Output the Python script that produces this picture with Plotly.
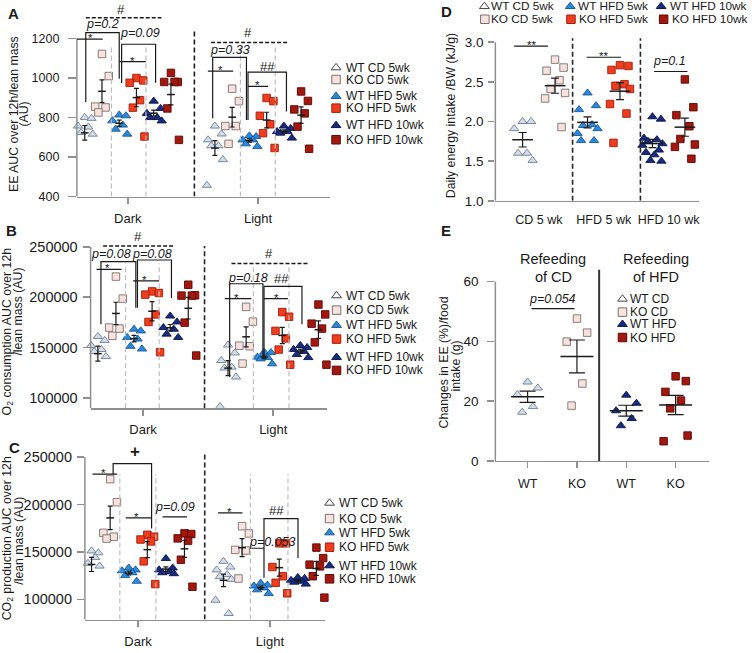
import numpy as np
import plotly.graph_objects as go

W, H = 752, 653
FONT = "Liberation Sans, Arial, Helvetica, sans-serif"
INK = "#1a1a1a"
AXC = "#8f8f8f"

# ---------------- data ----------------
GROUPS = ["WT CD 5wk", "KO CD 5wk", "WT HFD 5wk", "KO HFD 5wk", "WT HFD 10wk", "KO HFD 10wk"]
PERIODS = ["Dark", "Light"]

EE_DARK = [[801, 796, 757, 752, 724, 716, 512],
           [1122, 1010, 855, 851, 826],
           [813, 809, 784, 762, 741, 716],
           [1000, 988, 976, 888, 850, 704],
           [883, 846, 821, 800, 800, 783],
           [1026, 980, 980, 980, 846, 687]]
EE_LIGHT = [[757, 717, 687, 657, 657, 587, 457],
            [946, 883, 757, 757, 667],
            [707, 704, 687, 687, 667, 654],
            [899, 883, 809, 766, 721, 646],
            [757, 745, 729, 729, 721, 696],
            [932, 884, 841, 821, 754, 642]]

O2_DARK = [[161000, 157000, 152000, 148000, 146000, 141000, 102000],
           [220500, 198600, 169800, 168800, 161600],
           [168200, 166500, 160000, 158400, 151200, 148500],
           [205800, 204200, 202600, 182900, 175400, 145300],
           [181300, 175400, 169800, 168200, 163300, 160000],
           [212400, 201900, 201600, 201600, 174700, 142000]]
O2_LIGHT = [[152500, 144600, 137100, 130500, 129600, 120700, 91300],
            [190400, 175700, 151800, 151200, 134000],
            [145300, 145000, 140400, 140000, 138700, 133800],
            [185200, 180600, 166500, 159000, 147900, 132900],
            [152000, 150000, 148000, 146000, 143000, 140000],
            [192700, 182900, 173700, 168800, 155100, 132900]]

CO2_DARK = [[151000, 149000, 146000, 144000, 138000, 135000, 94000],
            [226700, 202400, 170000, 166000, 164000],
            [133000, 131000, 130000, 128000, 125000, 119000],
            [168000, 166000, 163000, 161000, 140000, 116000],
            [143000, 133000, 131000, 129000, 128000, 127000],
            [169500, 168800, 164200, 161800, 141700, 113200]]
CO2_LIGHT = [[140000, 134000, 131000, 126000, 124000, 121000, 99000, 85000],
             [177100, 169400, 152100, 151400, 121900],
             [117000, 115000, 114000, 112000, 110000, 106000],
             [159000, 159000, 134000, 124300, 117400, 106300],
             [123000, 122000, 120000, 119000, 118000, 116000],
             [154500, 143400, 136500, 134700, 124300, 101700]]

INTAKE_TICKS = ["CD 5 wk", "HFD 5 wk", "HFD 10 wk"]
INTAKE = [[2.0, 2.0, 1.91, 1.6, 1.6, 1.51],
          [2.78, 2.68, 2.64, 2.52, 2.41, 2.36, 2.29, 1.93],
          [2.36, 2.2, 2.15, 1.96, 1.95, 1.91, 1.85, 1.76, 1.76],
          [2.71, 2.7, 2.65, 2.47, 2.45, 2.41, 2.22, 2.1, 1.73],
          [2.06, 2.03, 1.79, 1.77, 1.75, 1.72, 1.7, 1.64, 1.61, 1.58, 1.51, 1.5],
          [2.53, 2.18, 2.08, 1.94, 1.78, 1.71, 1.68, 1.53]]

REFEED_GROUPS = ["WT CD", "KO CD", "WT HFD", "KO HFD"]
REFEED_TICKS = ["WT", "KO", "WT", "KO"]
REFEED = [[26.4, 24.4, 22.2, 18.2, 16.3],
          [47.6, 42.9, 39.9, 25.9, 18.5],
          [22.0, 19.3, 16.8, 14.2, 11.8],
          [28.3, 26.7, 23.1, 20.2, 17.6, 8.5, 6.6]]

# ---------------- styles ----------------
FILL = ["#d3deec", "#f7e2df", "#2a8ae0", "#f23c1c", "#172c80", "#a3170f"]
EDGE = ["#6f7d90", "#7d6f6d", "#1a5590", "#9a2010", "#0b1545", "#5a0a05"]
SYM = ["triangle-up", "square"] * 3
JIT = [0.0, 0.85, -0.85, 0.45, -0.45, 1.0, -1.0, 0.65, -0.65, 0.2, -0.2, 0.9]

fig = go.Figure()


def sfx(n):
    return "" if n == 1 else str(n)


def xd(a, b):
    return [a / W, b / W]


def yd(bottom, top):
    return [1 - bottom / H, 1 - top / H]


def axes(n, xpx, ypx, xr, yr, xtv, xtt, ytv, ytt, xfs, yfs, ytop,
         xticks=True, xstand=3, ystand=2, yticklen=7):
    s = sfx(n)
    fig.update_layout(**{
        f"xaxis{s}": dict(domain=xd(*xpx), range=xr, anchor=f"y{s}", showline=True,
                          linecolor=AXC, linewidth=1.5,
                          ticks="outside" if xticks else "", ticklen=6, tickwidth=1.5,
                          tickcolor=AXC, tickvals=xtv, ticktext=xtt,
                          tickfont=dict(size=xfs, color=INK, family=FONT),
                          showgrid=False, zeroline=False, fixedrange=True,
                          ticklabelstandoff=xstand),
        f"yaxis{s}": dict(domain=yd(*ypx), range=yr, anchor=f"x{s}", showline=False,
                          ticks="outside", ticklen=yticklen, tickwidth=1.5, tickcolor=AXC,
                          tickvals=ytv, ticktext=ytt,
                          tickfont=dict(size=yfs, color=INK, family=FONT),
                          showgrid=False, zeroline=False, fixedrange=True,
                          ticklabelstandoff=ystand),
    })
    fig.add_shape(type="line", xref=f"x{s} domain", yref=f"y{s}", x0=0, x1=0,
                  y0=yr[0], y1=ytop, line=dict(color=AXC, width=1.5))


def dots(n, centers, lists, styles, jit_px, px_per_unit, msize, mean_size, cap):
    s = sfx(n)
    for cx, vals, st in zip(centers, lists, styles):
        v = np.asarray(vals, float)
        order = np.argsort(-v, kind="stable")
        offs = np.zeros(len(v))
        offs[order] = np.array(JIT[:len(v)]) * jit_px / px_per_unit
        size = msize + (0.6 if SYM[st] == "triangle-up" else 0)
        fig.add_trace(go.Scatter(
            x=cx + offs, y=v, mode="markers", xaxis=f"x{s}", yaxis=f"y{s}",
            marker=dict(symbol=SYM[st], size=size, color=FILL[st],
                        line=dict(color=EDGE[st], width=0.9)),
            showlegend=False, cliponaxis=False, hoverinfo="skip"))
    for cx, vals in zip(centers, lists):
        v = np.asarray(vals, float)
        m = v.mean()
        sem = v.std(ddof=1) / np.sqrt(len(v))
        fig.add_trace(go.Scatter(
            x=[cx], y=[m], mode="markers", xaxis=f"x{s}", yaxis=f"y{s}",
            marker=dict(symbol="line-ew", size=mean_size, color=INK,
                        line=dict(color=INK, width=1.5)),
            error_y=dict(type="data", array=[sem], color=INK, thickness=1.2, width=cap),
            showlegend=False, cliponaxis=False, hoverinfo="skip"))


def L(n, x0, y0, x1, y1, dash="solid", color=INK, width=1.2):
    s = sfx(n)
    fig.add_shape(type="line", xref=f"x{s}", yref=f"y{s}", x0=x0, y0=y0, x1=x1, y1=y1,
                  line=dict(color=color, width=width, dash=dash))


def bracket(n, xl, xr, ytop, ylb, yrb):
    s = sfx(n)
    fig.add_shape(type="path", xref=f"x{s}", yref=f"y{s}",
                  path=f"M {xl},{ylb} L {xl},{ytop} L {xr},{ytop} L {xr},{yrb}",
                  line=dict(color=INK, width=1.2))


def T(n, x, y, text, size=12.5, yanchor="middle", yshift=0, xanchor="center"):
    s = sfx(n)
    fig.add_annotation(x=x, y=y, xref=f"x{s}", yref=f"y{s}", text=text, showarrow=False,
                       font=dict(family=FONT, size=size, color=INK),
                       xanchor=xanchor, yanchor=yanchor, yshift=yshift, borderpad=0)


def star(n, x, y, text="*"):
    T(n, x, y, text, size=11.5, yanchor="bottom", yshift=-6)


def P(px, py, text, size=12, angle=0, xanchor="center", yanchor="middle", bold=False):
    if bold:
        text = f"<b>{text}</b>"
    fig.add_annotation(x=px / W, y=1 - py / H, xref="paper", yref="paper", text=text,
                       showarrow=False, textangle=angle,
                       font=dict(family=FONT, size=size, color=INK),
                       xanchor=xanchor, yanchor=yanchor, borderpad=0)


# ---------------- panels A, B, C ----------------
def period_panel(n, xpx, ypx, xr, yr, ytv, ytt, yfs, ytop, light_off, dark_data, light_data,
                 sep_x, sep_top, grey_x, grey_top, ystand, yticklen, xstand=3):
    xtv = [2.5, light_off + 2.5]
    axes(n, xpx, ypx, xr, yr, xtv, PERIODS, ytv, ytt, 13, yfs, ytop,
         ystand=ystand, yticklen=yticklen, xstand=xstand)
    for gx in grey_x:
        L(n, gx, yr[0], gx, grey_top, dash="5px,3px", color="#bdbdbd", width=1.2)
    L(n, sep_x, yr[0], sep_x, sep_top, dash="5px,3px", color="#222222", width=1.6)
    ppu = (xpx[1] - xpx[0]) / (xr[1] - xr[0])
    dots(n, [i for i in range(6)], dark_data, range(6), 8, ppu, 7.5, 5.5, 2.5)
    dots(n, [light_off + i for i in range(6)], light_data, range(6), 8, ppu, 7.5, 5.5, 2.5)


# A
period_panel(1, (77, 330), (199, 5), [-0.4545, 14.2], [400, 1370],
             [400, 600, 800, 1000, 1200], ["400", "600", "800", "1000", "1200"], 12.5, 1200,
             7.55, EE_DARK, EE_LIGHT, 6.36, 1236, [1.55, 3.55, 9.03, 11.05], 1155, 6, 8)
L(1, 0.06, 1305, 4.45, 1305, dash="4px,2px", width=1.5)
T(1, 2.08, 1346, "#", 13)
T(1, 1.02, 1271, "<i>p=0.2</i>", 12.5)
bracket(1, 0.06, 2.0, 1230, 877, 996)
L(1, -0.45, 1197, 1.04, 1197)
star(1, 0.32, 1197)
T(1, 3.18, 1226, "<i>p=0.09</i>", 12.5)
bracket(1, 2.14, 4.11, 1171, 975, 976)
L(1, 2.02, 1083, 3.54, 1083)
star(1, 2.75, 1083)
L(1, 7.33, 1180, 11.74, 1180, dash="4px,2px", width=1.5)
T(1, 9.47, 1230, "#", 13)
T(1, 8.43, 1141, "<i>p=0.33</i>", 12.5)
bracket(1, 7.42, 9.38, 1105, 797, 788)
L(1, 7.14, 1035, 8.61, 1035)
star(1, 7.86, 1035)
T(1, 10.6, 1058, "##", 13)
bracket(1, 9.47, 11.7, 1030, 788, 831)
L(1, 9.47, 958, 10.64, 958)
star(1, 10.04, 958)

# B
period_panel(2, (90.7, 327), (413.3, 228), [-0.403, 12.65], [89590, 271600],
             [100000, 150000, 200000, 250000], ["100000", "150000", "200000", "250000"], 14.5,
             250000, 7.2, O2_DARK, O2_LIGHT, 5.9, 251000, [1.53, 3.39, 8.6, 10.57], 233600, 2, 7)
L(2, 0.29, 251000, 4.25, 251000, dash="4px,2px", width=1.5)
T(2, 2.23, 260800, "#", 13)
T(2, 0.70, 243400, "<i>p=0.08</i>", 12.5)
T(2, 2.97, 243400, "<i>p=0.08</i>", 12.5)
bracket(2, 0.17, 2.10, 235300, 173100, 189400)
bracket(2, 2.19, 4.07, 237000, 189400, 199200)
L(2, -0.07, 227700, 1.31, 227700)
star(2, 0.54, 227700)
L(2, 1.95, 216300, 3.39, 216300)
star(2, 2.6, 216300)
L(2, 7.39, 233600, 11.67, 233600, dash="4px,2px", width=1.5)
T(2, 9.46, 243400, "#", 13)
T(2, 8.30, 218900, "<i>p=0.18</i>", 12.5)
T(2, 10.15, 218300, "##", 13)
bracket(2, 7.29, 9.13, 213400, 120700, 138700)
bracket(2, 9.19, 11.29, 210700, 138700, 173100)
L(2, 7.02, 198600, 8.49, 198600)
star(2, 7.66, 198600)
L(2, 9.19, 198600, 10.51, 198600)
star(2, 9.87, 198600)

# C
period_panel(3, (85, 325), (627.3, 447), [-0.36, 12.54], [78540, 266350],
             [100000, 150000, 200000, 250000], ["100000", "150000", "200000", "250000"], 14.5,
             250000, 7.1, CO2_DARK, CO2_LIGHT, 6.09, 254500, [1.52, 3.46, 8.55, 10.57], 231900, 2, 7,
             xstand=3)
L(3, 0.05, 231900, 1.38, 231900)
star(3, 0.66, 231900)
T(3, 2.33, 256000, "<b>+</b>", 17)
bracket(3, 1.16, 3.23, 243100, 231900, 174700)
L(3, 1.84, 185800, 3.23, 185800)
star(3, 2.43, 185800)
T(3, 4.48, 197200, "<i>p=0.09</i>", 12.5)
L(3, 3.82, 186800, 5.14, 186800)
L(3, 6.81, 191000, 8.12, 191000)
star(3, 7.44, 191000)
T(3, 9.95, 193100, "##", 13)
bracket(3, 9.28, 11.11, 185100, 122600, 143400)
T(3, 9.76, 160800, "<i>p=0.053</i>", 12.5)
L(3, 8.6, 153800, 9.28, 153800)

# ---------------- D ----------------
axes(4, (496, 700), (203.3, 30), [-0.84, 5.437], [1.0, 3.158],
     [0.5, 2.5, 4.5], INTAKE_TICKS, [1.0, 1.5, 2.0, 2.5, 3.0],
     ["1.0", "1.5", "2.0", "2.5", "3.0"], 12.5, 13.5, 3.0, xticks=False, xstand=7,
     ystand=2, yticklen=6)
for sx in [1.54, 3.63]:
    L(4, sx, 1.0, sx, 3.05, dash="5px,3px", color="#222222", width=1.6)
dots(4, [0, 1, 2, 3, 4, 5], INTAKE, range(6), 10, 32.5, 7.5, 14.8, 4)
L(4, -0.26, 2.95, 0.78, 2.95)
star(4, 0.26, 2.95, "**")
L(4, 1.97, 2.81, 3.03, 2.81)
star(4, 2.5, 2.81, "**")
T(4, 4.53, 2.76, "<i>p=0.1</i>", 12.5)
L(4, 4.05, 2.63, 5.08, 2.63)

# ---------------- E ----------------
axes(5, (496, 710), (466.7, 255), [-0.654, 3.678], [0, 69.9],
     [0, 1, 2, 3], REFEED_TICKS, [0, 20, 40, 60], ["0", "20", "40", "60"],
     12.5, 13.5, 60, xstand=5, ystand=6, yticklen=7)
L(5, 1.45, 0, 1.45, 63.9, color="#333333", width=2)
dots(5, [0, 1, 2, 3], REFEED, [0, 1, 4, 5], 12, 49.4, 7.5, 23.6, 8)
T(5, 0.51, 54.2, "<i>p=0.054</i>", 12.5)
L(5, 0.08, 50.9, 0.95, 50.9)

# ---------------- overlay for legend markers (pixel space) ----------------
fig.update_layout(
    xaxis6=dict(domain=[0, 1], range=[0, W], visible=False, fixedrange=True, anchor="y6"),
    yaxis6=dict(domain=[0, 1], range=[H, 0], visible=False, fixedrange=True, anchor="x6"),
)


def leg(mx, my, tx, label, st, white=False, size=8.5, fs=12):
    fill = "#ffffff" if white else FILL[st]
    edge = "#444444" if white else EDGE[st]
    fig.add_trace(go.Scatter(x=[mx], y=[my], mode="markers", xaxis="x6", yaxis="y6",
                             marker=dict(symbol=SYM[st], size=size, color=fill,
                                         line=dict(color=edge, width=1)),
                             showlegend=False, cliponaxis=False, hoverinfo="skip"))
    P(tx, my, label, fs, xanchor="left")


for rows, mx, tx in [([68.5, 80.5, 97.5, 109.5, 127, 141.5], 336.5, 345.5),
                     ([299.3, 314, 329.3, 343.3, 361.7, 375], 337, 345.5),
                     ([509.3, 525, 539.3, 554, 572.7, 586], 330, 338.5)]:
    for i, g in enumerate(GROUPS):
        leg(mx, rows[i], tx, g, i, white=(i == 0))

D_LEG = [(485, 6.5, 490.5), (485.5, 19.5, 491), (571, 6.5, 577.5),
         (571.7, 19.5, 578.5), (662, 6.5, 669.5), (664.5, 19.5, 672)]
for i, g in enumerate(GROUPS):
    mx, my, tx = D_LEG[i]
    leg(mx, my, tx, g, i, white=(i == 0), fs=11.8)

for i, (g, st) in enumerate(zip(REFEED_GROUPS, [0, 1, 4, 5])):
    leg(623.3, [302.7, 316, 328.3, 341.7][i], 630, g, st, white=(i == 0))

# ---------------- titles, panel letters ----------------
P(13.5, 115, "EE AUC over 12h/lean mass", 12.3, angle=-90)
P(24, 115, "(AU)", 12.3, angle=-90)
P(7.5, 335, "O<sub>2</sub> consumption AUC over 12h", 12.3, angle=-90)
P(18.5, 315, "/lean mass (AU)", 12.3, angle=-90)
P(8, 545, "CO<sub>2</sub> production AUC over 12h", 12.3, angle=-90)
P(19.5, 547, "/lean mass (AU)", 12.3, angle=-90)
P(451.7, 117.5, "Daily energy intake /BW (kJ/g)", 12.3, angle=-90)
P(445, 366.5, "Changes in EE (%)/food", 12.3, angle=-90)
P(456.7, 371, "intake (g)", 12.3, angle=-90)

P(554, 262.7, "Refeeding", 14.5)
P(554, 280, "of CD", 14.5)
P(656.7, 262.7, "Refeeding", 14.5)
P(656.7, 280, "of HFD", 14.5)

for lab, px, py in [("A", 13.3, 13.3), ("B", 11.7, 233.3), ("C", 15, 453.3),
                    ("D", 446.7, 11.7), ("E", 446.7, 233)]:
    P(px, py, lab, 15, bold=True)

fig.update_layout(width=W, height=H, margin=dict(l=0, r=0, t=0, b=0),
                  paper_bgcolor="white", plot_bgcolor="rgba(0,0,0,0)",
                  showlegend=False, font=dict(family=FONT, color=INK))

fig.write_html("out.html",
               config={"displayModeBar": False, "staticPlot": True},
               post_script="document.body.style.margin='0';"
                           "document.body.style.overflow='hidden';")
